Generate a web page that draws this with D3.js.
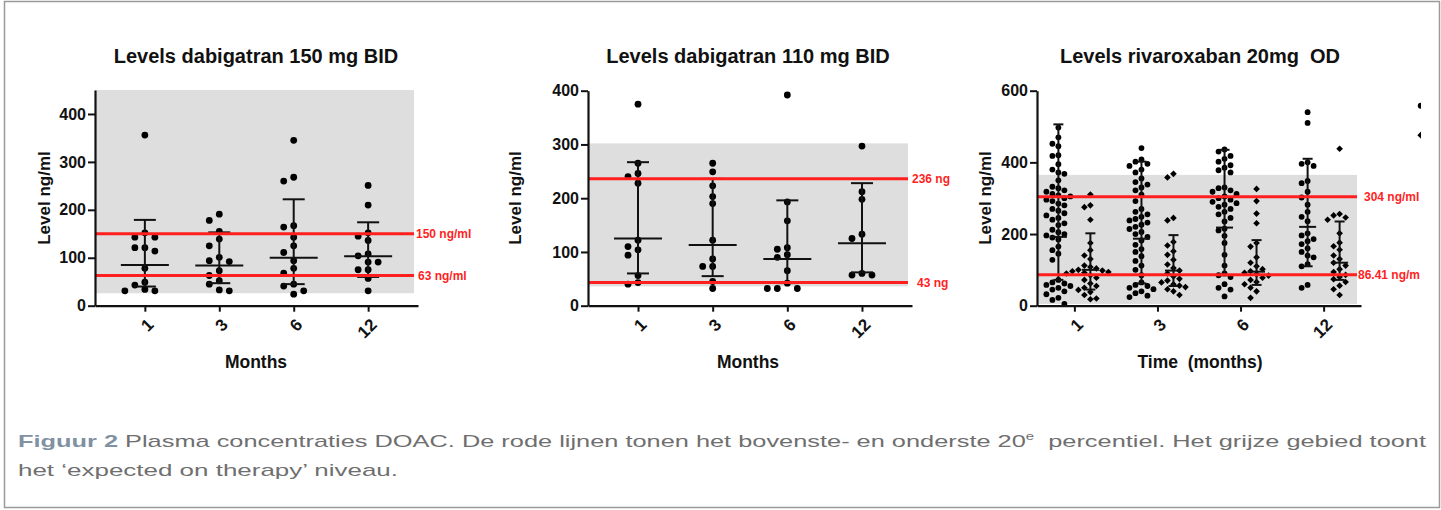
<!DOCTYPE html>
<html>
<head>
<meta charset="utf-8">
<script src="https://cdn.jsdelivr.net/npm/d3@7"></script>
<style>
  body { margin: 0; background: #fff; }
  svg { display: block; }
  text { font-family: "Liberation Sans", Arial, sans-serif; }
</style>
</head>
<body>
<svg id="chart" width="1441" height="510"></svg>
<script>
// ---- data -------------------------------------------------------------
const months = ["1", "3", "6", "12"];

// Dabigatran 150 mg BID (ng/ml), one array per month
const dab150Values = [
  [356, 152, 143, 143, 121, 121, 114, 78, 49, 43, 34, 31, 31],
  [191, 178, 155, 139, 125, 101, 94, 92, 73, 63, 52, 45, 33, 31],
  [345, 268, 260, 167, 164, 143, 125, 111, 94, 78, 68, 45, 41, 31, 24],
  [251, 210, 152, 145, 136, 108, 104, 91, 91, 75, 75, 57, 31]
];
const dab150Median = [85, 84, 100, 103];
const dab150Low = [40, 47, 45, 60];
const dab150High = [179, 153, 222, 174];
const dab150Limits = [150, 63];
const dab150LimitLabels = ["150 ng/ml", "63 ng/ml"];
const dab150Expected = [26, 450];

// Dabigatran 110 mg BID (ng/ml)
const dab110Values = [
  [375, 265, 246, 240, 228, 122, 110, 104, 94, 56, 43, 40],
  [265, 249, 223, 203, 190, 122, 87, 73, 73, 45, 32],
  [392, 193, 158, 108, 105, 95, 90, 65, 42, 32, 32, 32],
  [297, 212, 198, 133, 125, 60, 57, 57]
];
const dab110Median = [125, 113, 87, 116];
const dab110Low = [60, 55, 42, 62];
const dab110High = [267, 236, 196, 228];
const dab110Limits = [236, 43];
const dab110LimitLabels = ["236 ng", "43 ng"];
const dab110Expected = [36, 302];

// Rivaroxaban 20 mg OD (ng/ml): circles and diamonds per month
const rivaCircles = [
  [497, 470, 452, 445, 420, 418, 395, 380, 372, 368, 350, 332, 328, 322, 318, 312, 308, 305, 300, 296, 292, 285, 280, 270, 265, 258, 252, 245, 240, 230, 225, 212, 205, 200, 196, 190, 185, 165, 155, 145, 128, 72, 65, 62, 58, 55, 50, 45, 40, 32, 22, 16, 5],
  [440, 408, 402, 396, 390, 380, 372, 355, 345, 338, 330, 322, 310, 292, 270, 262, 255, 248, 242, 238, 232, 226, 220, 214, 206, 200, 192, 182, 170, 158, 150, 138, 125, 112, 100, 85, 65, 58, 55, 50, 46, 40, 35, 28, 24],
  [436, 430, 418, 410, 402, 392, 385, 378, 372, 330, 328, 322, 318, 312, 305, 300, 296, 290, 286, 282, 276, 270, 262, 255, 245, 235, 215, 210, 195, 175, 142, 112, 90, 85, 80, 60, 50, 45, 26],
  [540, 510, 400, 396, 390, 348, 342, 318, 302, 282, 262, 248, 236, 202, 196, 186, 180, 172, 160, 150, 140, 135, 116, 110, 58, 50]
];
const rivaCirclesMedian = [192, 187, 218, 220];
const rivaCirclesLow = [72, 62, 85, 110];
const rivaCirclesHigh = [506, 402, 435, 410];

const rivaDiamonds = [
  [310, 280, 275, 240, 175, 155, 140, 130, 112, 108, 104, 100, 98, 96, 94, 92, 90, 85, 78, 72, 62, 55, 50, 44, 38, 30, 20, 18],
  [368, 358, 245, 238, 178, 168, 152, 142, 128, 115, 105, 98, 90, 82, 75, 70, 65, 60, 56, 52, 46, 40, 30],
  [326, 292, 257, 230, 175, 165, 135, 120, 110, 102, 96, 92, 88, 84, 78, 72, 66, 60, 50, 40, 22],
  [438, 256, 252, 246, 240, 202, 176, 166, 156, 140, 130, 120, 112, 102, 94, 86, 80, 74, 66, 56, 46, 30]
];
const rivaDiamondsMedian = [100, 98, 95, 120];
const rivaDiamondsLow = [45, 55, 58, 72];
const rivaDiamondsHigh = [202, 197, 183, 235];

// values above the visible month groups, right of the last group
const rivaBeyondCircle = [558];
const rivaBeyondDiamond = [476];

const rivaLimits = [304, 86.41];
const rivaLimitLabels = ["304 ng/ml", "86.41 ng/m"];
const rivaExpected = [5, 365];

// ---- drawing ----------------------------------------------------------
const svg = d3.select("#chart");
const RED = "#ff1f1f";

// outer frame
svg.append("rect")
  .attr("x", 4.5).attr("y", 1.5).attr("width", 1435).attr("height", 506)
  .attr("fill", "none").attr("stroke", "#9a9a9a").attr("stroke-width", 1.5);

svg.append("defs").append("clipPath").attr("id", "plotclip")
  .append("rect").attr("x", 0).attr("y", 0).attr("width", 1421).attr("height", 510);

const root = svg.append("g").attr("clip-path", "url(#plotclip)");

// horizontal swarm slots for one group so that points do not overlap
function swarm(vals, y, minDy) {
  const order = vals.map((v, i) => i).sort((a, b) => vals[b] - vals[a]);
  const placed = [];
  const slots = new Array(vals.length);
  order.forEach(i => {
    const py = y(vals[i]);
    for (let k = 0; k < 40; k++) {
      const s = k === 0 ? 0 : (k % 2 ? -Math.ceil(k / 2) : Math.ceil(k / 2));
      if (!placed.some(p => p.s === s && Math.abs(p.y - py) < minDy)) {
        slots[i] = s; placed.push({ s, y: py }); break;
      }
    }
  });
  return slots;
}

function drawPanel(cfg) {
  const g = root.append("g");
  const y = d3.scaleLinear().domain([0, cfg.yMax]).range([cfg.bottom, cfg.top]);
  const x = d3.scalePoint().domain(months).range([cfg.left, cfg.right]).padding(cfg.padding);

  // expected on-therapy band
  g.append("rect")
    .attr("x", cfg.left).attr("width", cfg.right - 4 - cfg.left)
    .attr("y", y(cfg.expected[1])).attr("height", y(cfg.expected[0]) - y(cfg.expected[1]))
    .attr("fill", "#dedede");

  // groups of points with median / range bars
  cfg.groups.forEach(grp => {
    grp.values.forEach((vals, mi) => {
      const cx = x(months[mi]) + grp.offset;
      const slots = swarm(vals, y, grp.minDy);
      const pts = g.append("g");
      vals.forEach((v, i) => {
        const px = cx + slots[i] * grp.step;
        if (grp.shape === "diamond") {
          pts.append("path")
            .attr("d", d3.symbol(d3.symbolSquare, grp.size)())
            .attr("transform", `translate(${px},${y(v)}) rotate(45)`)
            .attr("fill", "#000");
        } else {
          pts.append("circle").attr("cx", px).attr("cy", y(v)).attr("r", grp.r).attr("fill", "#000");
        }
      });
      const bar = g.append("g").attr("stroke", "#111").attr("stroke-width", 2).attr("fill", "none");
      bar.append("line").attr("x1", cx).attr("x2", cx)
        .attr("y1", y(grp.high[mi])).attr("y2", y(grp.low[mi]));
      bar.append("line").attr("x1", cx - grp.capW / 2).attr("x2", cx + grp.capW / 2)
        .attr("y1", y(grp.high[mi])).attr("y2", y(grp.high[mi]));
      bar.append("line").attr("x1", cx - grp.capW / 2).attr("x2", cx + grp.capW / 2)
        .attr("y1", y(grp.low[mi])).attr("y2", y(grp.low[mi]));
      bar.append("line").attr("x1", cx - grp.midW / 2).attr("x2", cx + grp.midW / 2)
        .attr("y1", y(grp.median[mi])).attr("y2", y(grp.median[mi]));
    });
  });

  // red percentile lines
  cfg.limits.forEach((v, i) => {
    g.append("line")
      .attr("x1", cfg.left).attr("x2", cfg.right - 4)
      .attr("y1", y(v)).attr("y2", y(v))
      .attr("stroke", RED).attr("stroke-width", 3);
    g.append("text")
      .attr("x", cfg.right + cfg.labelDx[i]).attr("y", y(v)).attr("dy", "0.35em")
      .attr("fill", RED).attr("font-size", 12).attr("font-weight", "bold")
      .text(cfg.limitLabels[i]);
  });

  // axes
  const yAxis = g.append("g").attr("transform", `translate(${cfg.left},0)`)
    .call(d3.axisLeft(y).tickValues(cfg.yTicks).tickSize(7).tickPadding(2).tickSizeOuter(0));
  const xAxis = g.append("g").attr("transform", `translate(0,${cfg.bottom})`)
    .call(d3.axisBottom(x).tickSize(6).tickSizeOuter(0));
  [yAxis, xAxis].forEach(a => {
    a.select(".domain").attr("stroke", "#111").attr("stroke-width", 2.2);
    a.selectAll(".tick line").attr("stroke", "#111").attr("stroke-width", 2);
    a.selectAll("text").attr("fill", "#111").attr("font-size", 16).attr("font-weight", "bold")
      .style("font-family", '"Liberation Sans", Arial, sans-serif');
  });
  xAxis.selectAll(".tick text")
    .attr("font-size", 17)
    .attr("text-anchor", "end")
    .attr("dy", "0.35em").attr("y", 0)
    .attr("transform", "translate(5,16) rotate(-45)");

  // titles
  g.append("text").attr("x", cfg.titleX).attr("y", 63)
    .attr("text-anchor", "middle").attr("font-size", 20).attr("font-weight", "bold")
    .style("white-space", "pre").attr("fill", "#111").text(cfg.title);
  g.append("text").attr("x", cfg.titleX).attr("y", 368)
    .attr("text-anchor", "middle").attr("font-size", 17.5).attr("font-weight", "bold")
    .style("white-space", "pre").attr("fill", "#111").text(cfg.xLabel);
  if (cfg.yLabel) {
    g.append("text")
      .attr("transform", `translate(${cfg.yLabelX},198) rotate(-90)`)
      .attr("text-anchor", "middle").attr("dy", "0.35em")
      .attr("font-size", 17).attr("font-weight", "bold").attr("fill", "#111")
      .text(cfg.yLabel);
  }
  return { g, x, y };
}

const bigDot = { r: 3.4, step: 10, minDy: 6.8, capW: 22, midW: 48, offset: 0 };

drawPanel({
  title: "Levels dabigatran 150 mg BID", titleX: 256, xLabel: "Months",
  yLabel: "Level ng/ml", yLabelX: 44,
  left: 95, right: 418, top: 90, bottom: 305.7, padding: 0.67,
  yMax: 450, yTicks: [0, 100, 200, 300, 400],
  expected: dab150Expected, limits: dab150Limits, limitLabels: dab150LimitLabels, labelDx: [-2, 0],
  groups: [Object.assign({ values: dab150Values, median: dab150Median, low: dab150Low, high: dab150High }, bigDot)]
});

drawPanel({
  title: "Levels dabigatran 110 mg BID", titleX: 748, xLabel: "Months",
  yLabel: "Level ng/ml", yLabelX: 515,
  left: 588, right: 912, top: 90.7, bottom: 305.7, padding: 0.67,
  yMax: 400, yTicks: [0, 100, 200, 300, 400],
  expected: dab110Expected, limits: dab110Limits, limitLabels: dab110LimitLabels, labelDx: [0, 5],
  groups: [Object.assign({ values: dab110Values, median: dab110Median, low: dab110Low, high: dab110High }, bigDot)]
});

const riva = drawPanel({
  title: "Levels rivaroxaban 20mg  OD", titleX: 1200, xLabel: "Time  (months)",
  yLabel: "Level ng/ml", yLabelX: 985,
  left: 1037, right: 1361, top: 90.7, bottom: 305.7, padding: 0.45,
  yMax: 600, yTicks: [0, 200, 400, 600],
  expected: rivaExpected, limits: rivaLimits, limitLabels: rivaLimitLabels, labelDx: [3, -3],
  groups: [
    { values: rivaCircles, median: rivaCirclesMedian, low: rivaCirclesLow, high: rivaCirclesHigh,
      shape: "circle", r: 2.9, step: 6, minDy: 7, capW: 10, midW: 17, offset: -16 },
    { values: rivaDiamonds, median: rivaDiamondsMedian, low: rivaDiamondsLow, high: rivaDiamondsHigh,
      shape: "diamond", size: 22, step: 6, minDy: 6.5, capW: 10, midW: 17, offset: 16 }
  ]
});

// the two highest values sit past the last month group
const beyondX = riva.x(months[3]) + riva.x.step() + 14;
rivaBeyondCircle.forEach(v => {
  riva.g.append("circle").attr("cx", beyondX).attr("cy", riva.y(v)).attr("r", 2.9).attr("fill", "#000");
});
rivaBeyondDiamond.forEach(v => {
  riva.g.append("path").attr("d", d3.symbol(d3.symbolSquare, 22)())
    .attr("transform", `translate(${beyondX},${riva.y(v)}) rotate(45)`).attr("fill", "#000");
});

// ---- caption -----------------------------------------------------------
const cap = svg.append("g")
  .style("font-family", '"Open Sans", "DejaVu Sans", sans-serif')
  .attr("font-size", 17).attr("fill", "#6f6f6f");
const line1 = cap.append("text").attr("x", 18).attr("y", 447)
  .attr("textLength", 1408).attr("lengthAdjust", "spacingAndGlyphs")
  .style("white-space", "pre");
line1.append("tspan").attr("font-weight", "bold").attr("fill", "#7f91a2").text("Figuur 2");
line1.append("tspan").text(" Plasma concentraties DOAC. De rode lijnen tonen het bovenste- en onderste 20");
line1.append("tspan").attr("font-size", 10).attr("dy", -7).text("e");
line1.append("tspan").attr("dy", 7).text("  percentiel. Het grijze gebied toont");
cap.append("text").attr("x", 18).attr("y", 476)
  .attr("textLength", 380).attr("lengthAdjust", "spacingAndGlyphs")
  .text("het \u2018expected on therapy\u2019 niveau.");
</script>
</body>
</html>
